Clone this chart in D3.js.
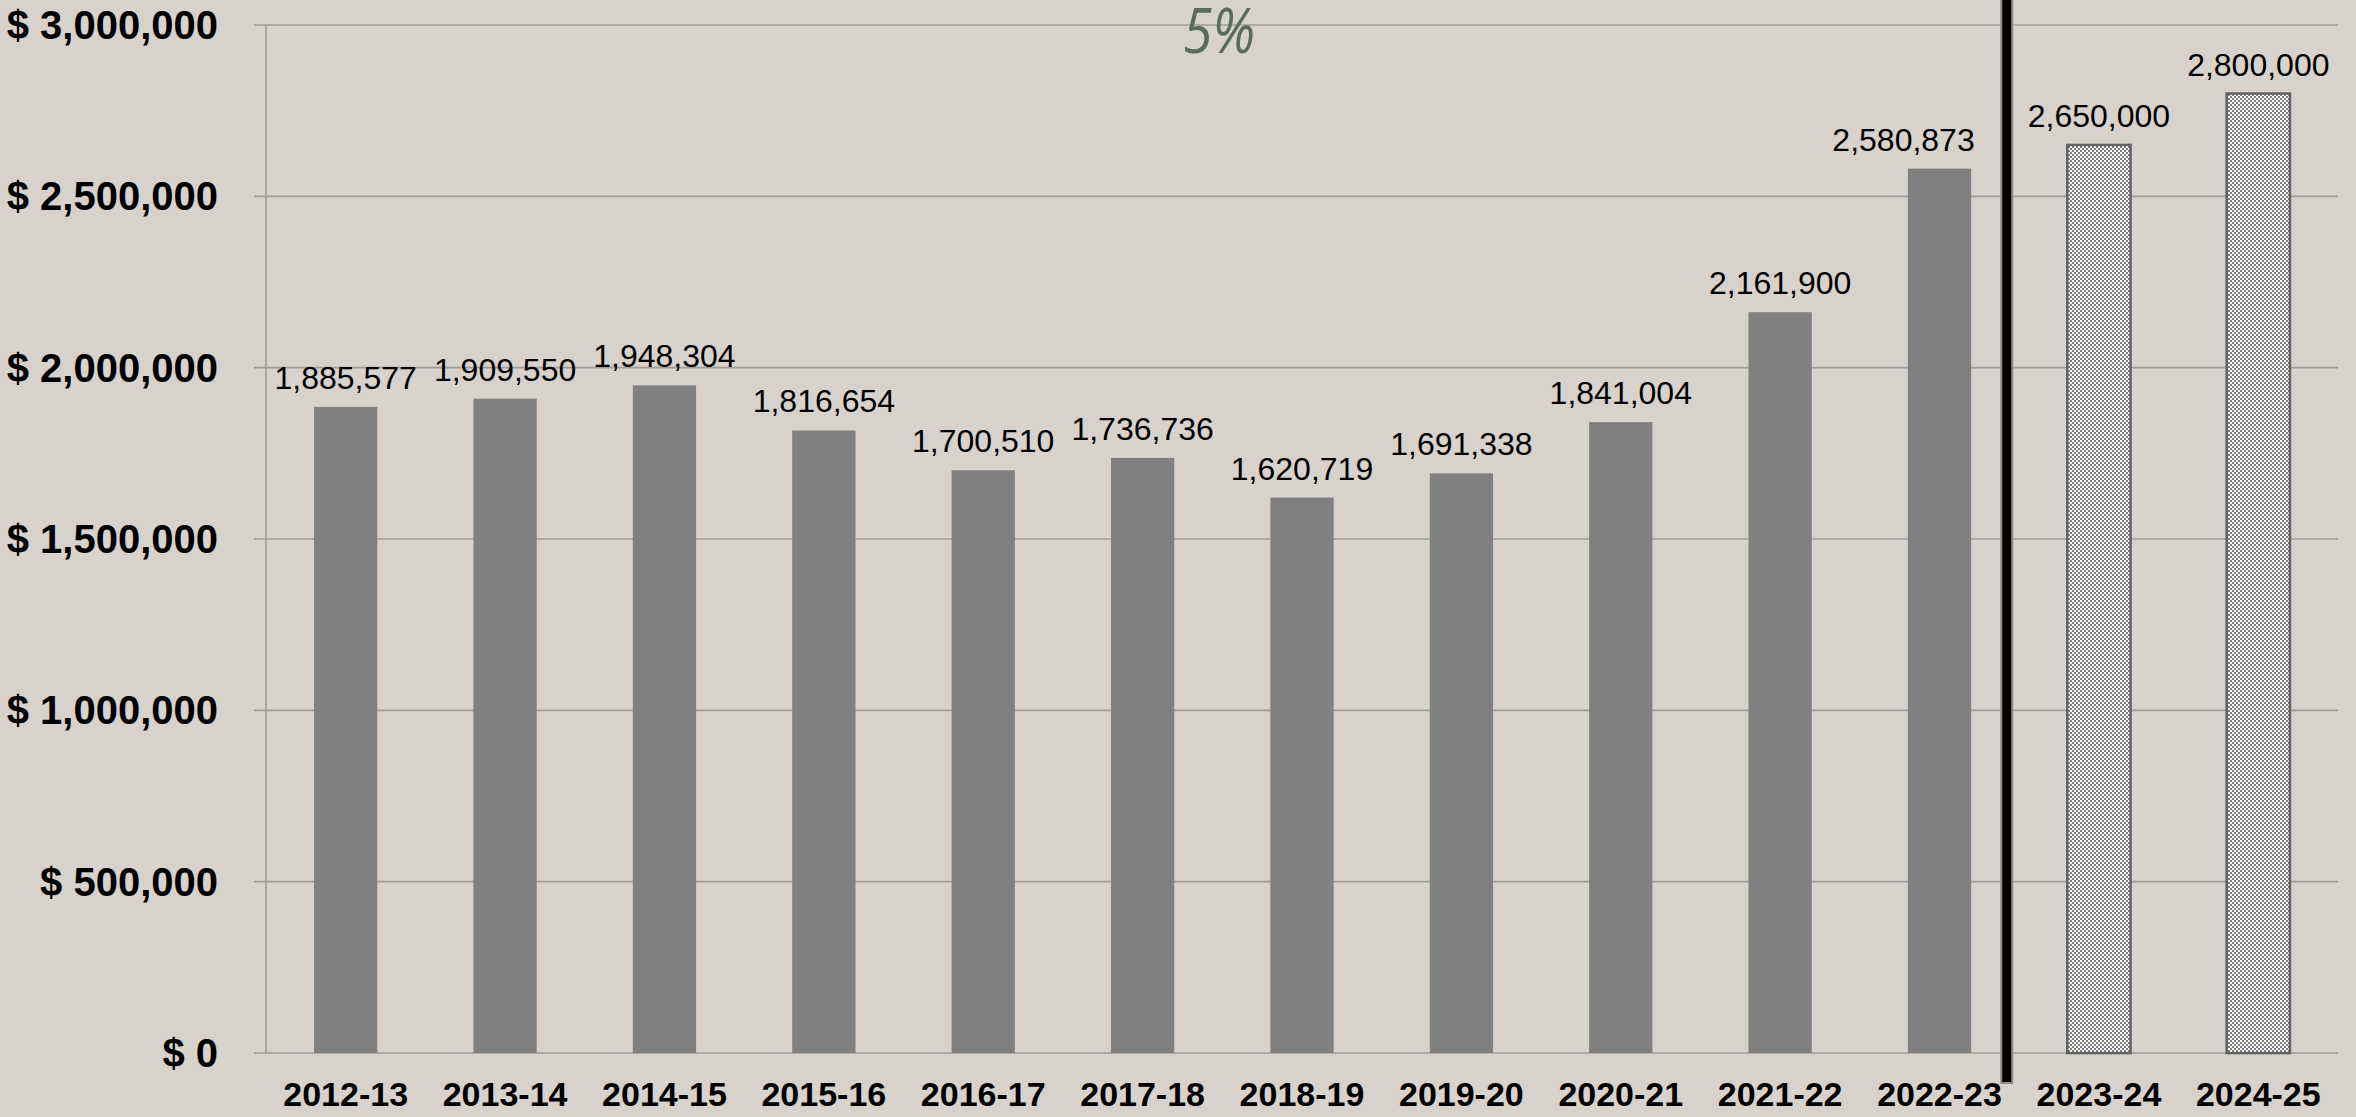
<!DOCTYPE html>
<html>
<head>
<meta charset="utf-8">
<script src="https://cdn.jsdelivr.net/npm/d3@7"></script>
<style>
  html, body { margin: 0; padding: 0; background: #d7d2cc; }
  svg { display: block; }
</style>
</head>
<body>
<script>
// chart data
var years = ["2012-13", "2013-14", "2014-15", "2015-16", "2016-17", "2017-18", "2018-19",
             "2019-20", "2020-21", "2021-22", "2022-23", "2023-24", "2024-25"];
var amounts = [1885577, 1909550, 1948304, 1816654, 1700510, 1736736, 1620719,
               1691338, 1841004, 2161900, 2580873, 2650000, 2800000];
var projected = ["2023-24", "2024-25"];
var yTicks = [0, 500000, 1000000, 1500000, 2000000, 2500000, 3000000];
var note = "5%";

// size
var width = 2356,
    height = 1117;
var margin = {top: 25, right: 18, bottom: 64, left: 266};

var svg = d3.select("body").append("svg")
    .attr("width", width)
    .attr("height", height);

svg.append("rect")
    .attr("width", width)
    .attr("height", height)
    .attr("fill", "#d7d2cc");

// checkered fill for projected bars
var defs = svg.append("defs");
var pat = defs.append("pattern")
    .attr("id", "checker")
    .attr("patternUnits", "userSpaceOnUse")
    .attr("width", 4)
    .attr("height", 4);
pat.append("rect").attr("width", 4).attr("height", 4).attr("fill", "#7c7c7c")
    .attr("shape-rendering", "crispEdges");
pat.append("rect").attr("x", 0).attr("y", 0).attr("width", 2).attr("height", 2).attr("fill", "#ffffff")
    .attr("shape-rendering", "crispEdges");
pat.append("rect").attr("x", 2).attr("y", 2).attr("width", 2).attr("height", 2).attr("fill", "#ffffff")
    .attr("shape-rendering", "crispEdges");

var x = d3.scaleBand()
    .domain(years)
    .range([margin.left, width - margin.right])
    .padding(0);

var y = d3.scaleLinear()
    .domain([0, 3000000])
    .range([height - margin.bottom, margin.top]);

var barW = x.bandwidth() * 0.397;

// the last actual value label is nudged left to clear the divider
var labelShift = {"2022-23": -36};

// gridlines
svg.append("g")
    .attr("class", "grid")
    .selectAll("line")
    .data(yTicks)
    .enter().append("line")
    .attr("x1", margin.left - 12)
    .attr("x2", width - margin.right)
    .attr("y1", function(d) { return y(d); })
    .attr("y2", function(d) { return y(d); })
    .style("stroke", "#a09d99")
    .style("stroke-width", "1.6");

// left axis line
svg.append("line")
    .attr("x1", margin.left)
    .attr("x2", margin.left)
    .attr("y1", y(3000000))
    .attr("y2", y(0))
    .style("stroke", "#9a9793")
    .style("stroke-width", "1.5");

// y labels
var fmt = d3.format(",");
svg.append("g")
    .attr("class", "ylabels")
    .selectAll("text")
    .data(yTicks)
    .enter().append("text")
    .attr("x", 218)
    .attr("y", function(d) { return y(d); })
    .attr("dy", "0.35em")
    .attr("text-anchor", "end")
    .style("font-family", "Arial, 'Liberation Sans', sans-serif")
    .style("font-weight", "bold")
    .style("font-size", "40px")
    .style("fill", "#000")
    .text(function(d) { return "$ " + fmt(d); });

// bars
svg.append("g")
    .attr("class", "bars")
    .selectAll("rect")
    .data(years)
    .enter().append("rect")
    .attr("x", function(d) { return x(d) + (x.bandwidth() - barW) / 2; })
    .attr("y", function(d, i) { return y(amounts[i]); })
    .attr("width", barW)
    .attr("height", function(d, i) { return y(0) - y(amounts[i]); })
    .style("fill", function(d) { return projected.indexOf(d) >= 0 ? "url(#checker)" : "#808080"; })
    .style("stroke", function(d) { return projected.indexOf(d) >= 0 ? "#626262" : "none"; })
    .style("stroke-width", "2.5");

// value labels
svg.append("g")
    .attr("class", "values")
    .selectAll("text")
    .data(years)
    .enter().append("text")
    .attr("x", function(d) { return x(d) + x.bandwidth() / 2 + (labelShift[d] || 0); })
    .attr("y", function(d, i) { return y(amounts[i]) - 18; })
    .attr("text-anchor", "middle")
    .style("font-family", "Arial, 'Liberation Sans', sans-serif")
    .style("font-size", "32px")
    .style("fill", "#000")
    .text(function(d, i) { return fmt(amounts[i]); });

// x labels
svg.append("g")
    .attr("class", "xlabels")
    .selectAll("text")
    .data(years)
    .enter().append("text")
    .attr("x", function(d) { return x(d) + x.bandwidth() / 2; })
    .attr("y", 1106)
    .attr("text-anchor", "middle")
    .style("font-family", "Arial, 'Liberation Sans', sans-serif")
    .style("font-weight", "bold")
    .style("font-size", "34px")
    .style("fill", "#000")
    .text(function(d) { return d; });

// divider between actual and projected
var divX = x("2022-23") + x.bandwidth() - 12.5;
svg.append("line")
    .attr("x1", divX).attr("x2", divX)
    .attr("y1", 0).attr("y2", 1084)
    .style("stroke", "#8f8c88")
    .style("stroke-width", "13");
svg.append("line")
    .attr("x1", divX).attr("x2", divX)
    .attr("y1", 0).attr("y2", 1082)
    .style("stroke", "#000")
    .style("stroke-width", "9");

// growth note
svg.append("text")
    .attr("x", 1219)
    .attr("y", 53)
    .attr("text-anchor", "middle")
    .attr("textLength", 72)
    .attr("lengthAdjust", "spacingAndGlyphs")
    .style("font-family", "'Open Sans', 'Noto Sans', sans-serif")
    .style("font-style", "italic")
    .style("font-size", "62px")
    .style("fill", "#5b6b5d")
    .text(note);
</script>
</body>
</html>
